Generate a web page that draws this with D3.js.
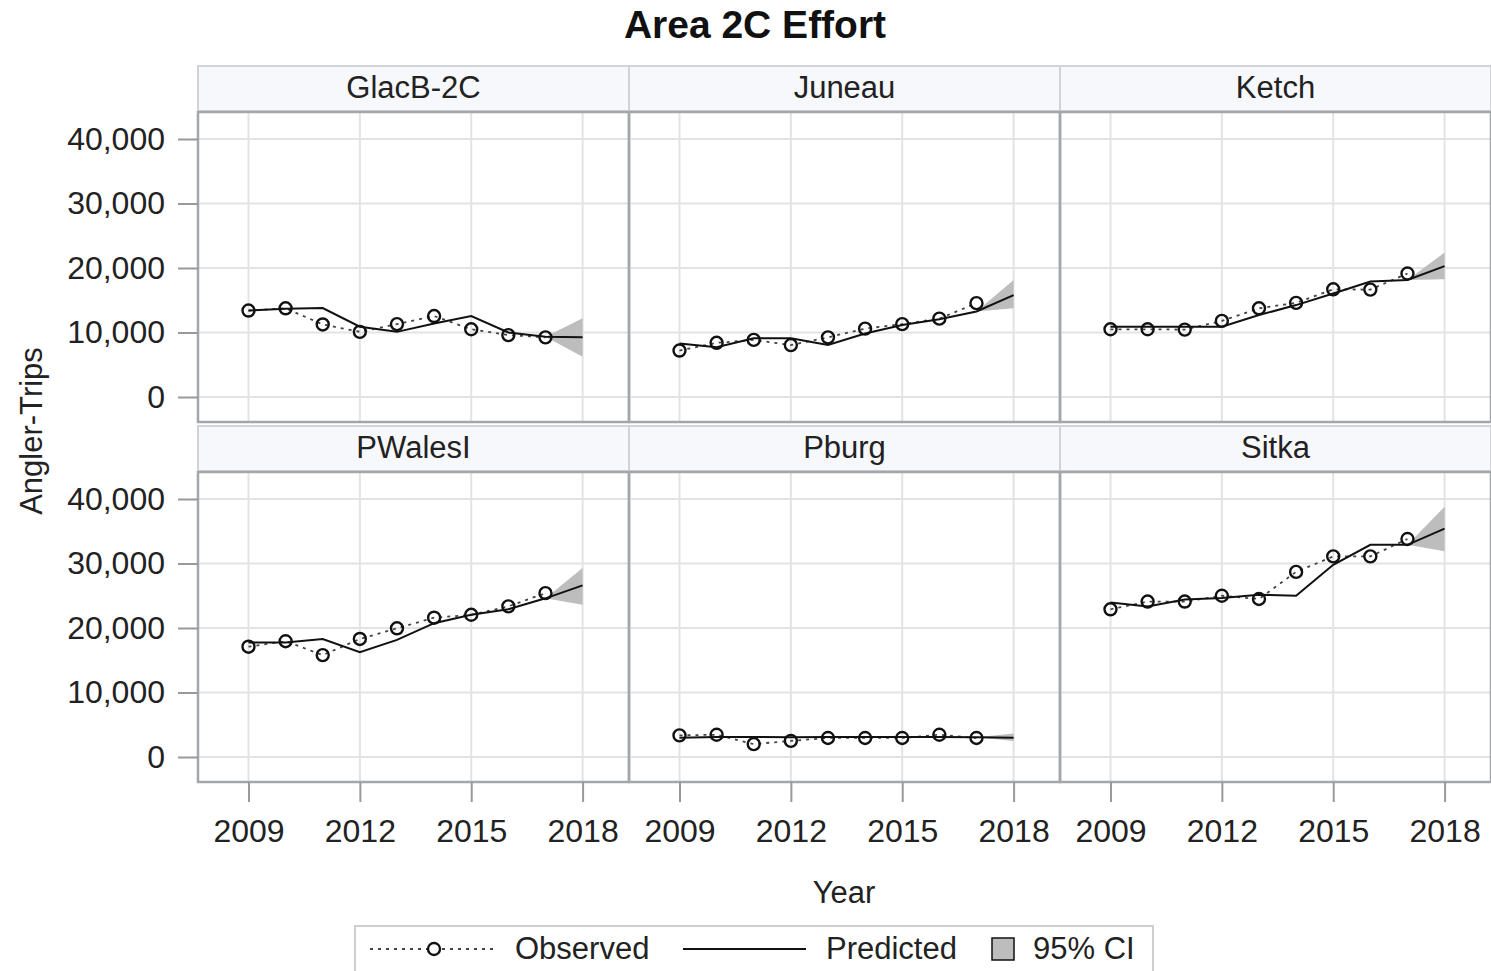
<!DOCTYPE html>
<html>
<head>
<meta charset="utf-8">
<script src="https://cdn.jsdelivr.net/npm/d3@7"></script>
<style>
  body { margin: 0; background: #fff; }
  text { font-family: "Liberation Sans", Arial, sans-serif; fill: #222; }
</style>
</head>
<body>
<svg class="svg_effort" width="1491" height="971"></svg>
<script>
/* Area 2C effort panels: observed, predicted and 95% CI per port */

var regions = ["GlacB-2C", "Juneau", "Ketch", "PWalesI", "Pburg", "Sitka"];
var obsYears = [2009, 2010, 2011, 2012, 2013, 2014, 2015, 2016, 2017];
var predYears = [2009, 2010, 2011, 2012, 2013, 2014, 2015, 2016, 2017, 2018];
var ciYears = [2017, 2018];
var xTicks = [2009, 2012, 2015, 2018];
var yTicks = [0, 10000, 20000, 30000, 40000];

// observed angler-trips
var obsGlacB   = [13400, 13750, 11250, 10100, 11300, 12550, 10500, 9600, 9250];
var obsJuneau  = [7200, 8400, 8850, 8050, 9250, 10600, 11300, 12150, 14550];
var obsKetch   = [10500, 10500, 10450, 11800, 13750, 14600, 16700, 16650, 19150];
var obsPWales  = [17100, 17950, 15800, 18300, 19950, 21600, 22050, 23350, 25400];
var obsPburg   = [3350, 3450, 2000, 2500, 2950, 2950, 2950, 3450, 2950];
var obsSitka   = [22900, 24100, 24100, 25000, 24500, 28700, 31100, 31100, 33800];

// predicted angler-trips
var predGlacB  = [13400, 13700, 13800, 10900, 10100, 11400, 12550, 10000, 9350, 9250];
var predJuneau = [8300, 7700, 9100, 9100, 8050, 9850, 11150, 12050, 13250, 15800];
var predKetch  = [10900, 10900, 10900, 10900, 12700, 14250, 16050, 17900, 18150, 20300];
var predPWales = [17750, 17750, 18300, 16250, 18150, 20750, 22050, 22900, 24600, 26600];
var predPburg  = [3000, 3100, 3100, 3050, 3100, 3100, 3100, 3100, 3050, 3000];
var predSitka  = [23950, 23350, 24400, 24650, 25150, 25000, 29800, 32900, 32900, 35400];

// 95% CI (forecast only)
var loGlacB  = [9350, 6250],   hiGlacB  = [9350, 12200];
var loJuneau = [13250, 13750], hiJuneau = [13250, 18150];
var loKetch  = [18150, 18250], hiKetch  = [18150, 22400];
var loPWales = [24600, 23600], hiPWales = [24600, 29300];
var loPburg  = [3050, 2500],   hiPburg  = [3050, 3650];
var loSitka  = [32900, 31900], hiSitka  = [32900, 38800];

var obsAll  = [obsGlacB, obsJuneau, obsKetch, obsPWales, obsPburg, obsSitka];
var predAll = [predGlacB, predJuneau, predKetch, predPWales, predPburg, predSitka];
var loAll   = [loGlacB, loJuneau, loKetch, loPWales, loPburg, loSitka];
var hiAll   = [hiGlacB, hiJuneau, hiKetch, hiPWales, hiPburg, hiSitka];

var panels = regions.map(function(name, i) {
    return {
        name: name,
        obs: obsYears.map(function(yr, j) { return {year: yr, v: obsAll[i][j]}; }),
        pred: predYears.map(function(yr, j) { return {year: yr, v: predAll[i][j]}; }),
        ci: ciYears.map(function(yr, j) { return {year: yr, lo: loAll[i][j], hi: hiAll[i][j]}; })
    };
});

var svg = d3.select(".svg_effort");

var panelLeft = 198, panelW = 431, headH = 45, plotH = 310;
var rowTop = [66, 426];

var x = d3.scaleLinear().domain([2007.64, 2019.25]).range([0, panelW]);
var y = d3.scaleLinear().domain([-3876, 44186]).range([plotH, 0]);

var valLine = d3.line().x(function(d) { return x(d.year); }).y(function(d) { return y(d.v); });
var ciArea = d3.area()
    .x(function(d) { return x(d.year); })
    .y0(function(d) { return y(d.lo); })
    .y1(function(d) { return y(d.hi); });

// title
svg.append("text")
    .attr("x", 755).attr("y", 38)
    .attr("text-anchor", "middle")
    .style("font-size", "39px").style("font-weight", "bold")
    .style("fill", "#111")
    .text("Area 2C Effort");

panels.forEach(function(p, i) {
    var col = i % 3, row = Math.floor(i / 3);
    var g = svg.append("g")
        .attr("transform", "translate(" + (panelLeft + col * panelW) + "," + rowTop[row] + ")");

    // header strip
    g.append("rect")
        .attr("x", 0).attr("y", 0)
        .attr("width", panelW).attr("height", headH)
        .attr("fill", "#f7f8fc").attr("stroke", "#d2d3d6").attr("stroke-width", 2);
    g.append("text")
        .attr("x", panelW / 2).attr("y", 32)
        .attr("text-anchor", "middle")
        .style("font-size", "31px")
        .text(p.name);

    var pg = g.append("g").attr("transform", "translate(0," + (headH + 1) + ")");

    // grid
    pg.selectAll(".vgrid").data(xTicks).enter().append("line")
        .attr("x1", function(d) { return x(d); }).attr("x2", function(d) { return x(d); })
        .attr("y1", 0).attr("y2", plotH)
        .attr("stroke", "#e3e3e3").attr("stroke-width", 2);
    pg.selectAll(".hgrid").data(yTicks).enter().append("line")
        .attr("x1", 0).attr("x2", panelW)
        .attr("y1", function(d) { return y(d); }).attr("y2", function(d) { return y(d); })
        .attr("stroke", "#e3e3e3").attr("stroke-width", 2);

    // confidence band
    pg.append("path").datum(p.ci)
        .attr("d", ciArea)
        .attr("fill", "#bdbdbd");

    // observed (dotted)
    pg.append("path").datum(p.obs)
        .attr("d", valLine)
        .attr("fill", "none").attr("stroke", "#444")
        .attr("stroke-width", 1.8).attr("stroke-dasharray", "3,5");

    // predicted
    pg.append("path").datum(p.pred)
        .attr("d", valLine)
        .attr("fill", "none").attr("stroke", "#111").attr("stroke-width", 2);

    pg.selectAll(".pt").data(p.obs).enter().append("circle")
        .attr("cx", function(d) { return x(d.year); })
        .attr("cy", function(d) { return y(d.v); })
        .attr("r", 6)
        .attr("fill", "none").attr("stroke", "#111").attr("stroke-width", 2.4);

    // frame
    pg.append("rect")
        .attr("x", 0).attr("y", 0).attr("width", panelW).attr("height", plotH)
        .attr("fill", "none").attr("stroke", "#a3a7ab").attr("stroke-width", 2.5);

    if (col === 0) {
        var ya = svg.append("g")
            .attr("transform", "translate(" + panelLeft + "," + (rowTop[row] + headH + 1) + ")")
            .call(d3.axisLeft(y).tickValues(yTicks).tickSize(20).tickPadding(13).tickFormat(d3.format(",")));
        styleAxis(ya);
    }
    if (row === 1) {
        var xa = svg.append("g")
            .attr("transform", "translate(" + (panelLeft + col * panelW) + "," + (rowTop[row] + headH + 1 + plotH) + ")")
            .call(d3.axisBottom(x).tickValues(xTicks).tickSize(20).tickPadding(17).tickFormat(d3.format("d")));
        styleAxis(xa);
    }
});

function styleAxis(a) {
    a.select(".domain").remove();
    a.selectAll(".tick line").attr("stroke", "#999").attr("stroke-width", 2);
    a.selectAll(".tick text")
        .style("font-size", "32px")
        .style("font-family", "'Liberation Sans', Arial, sans-serif")
        .attr("fill", "#222");
}

// axis titles
svg.append("text")
    .attr("x", 844).attr("y", 903)
    .attr("text-anchor", "middle")
    .style("font-size", "31px")
    .text("Year");
svg.append("text")
    .attr("transform", "translate(42,431) rotate(-90)")
    .attr("text-anchor", "middle")
    .style("font-size", "31px")
    .text("Angler-Trips");

// legend
var leg = svg.append("g");
leg.append("rect")
    .attr("x", 355).attr("y", 926).attr("width", 798).attr("height", 60)
    .attr("fill", "#fff").attr("stroke", "#cfcfcf").attr("stroke-width", 2);
leg.append("line")
    .attr("x1", 370).attr("x2", 494).attr("y1", 949).attr("y2", 949)
    .attr("stroke", "#444").attr("stroke-width", 1.8).attr("stroke-dasharray", "3,5");
leg.append("circle")
    .attr("cx", 434).attr("cy", 949).attr("r", 6)
    .attr("fill", "#fff").attr("stroke", "#111").attr("stroke-width", 2.4);
leg.append("text").attr("x", 515).attr("y", 959).style("font-size", "31px").text("Observed");
leg.append("line")
    .attr("x1", 683).attr("x2", 806).attr("y1", 949).attr("y2", 949)
    .attr("stroke", "#111").attr("stroke-width", 2);
leg.append("text").attr("x", 826).attr("y", 959).style("font-size", "31px").text("Predicted");
leg.append("rect")
    .attr("x", 992).attr("y", 938).attr("width", 22).attr("height", 22)
    .attr("fill", "#bdbdbd").attr("stroke", "#111").attr("stroke-width", 1.5);
leg.append("text").attr("x", 1033).attr("y", 959).style("font-size", "31px").text("95% CI");
</script>
</body>
</html>
